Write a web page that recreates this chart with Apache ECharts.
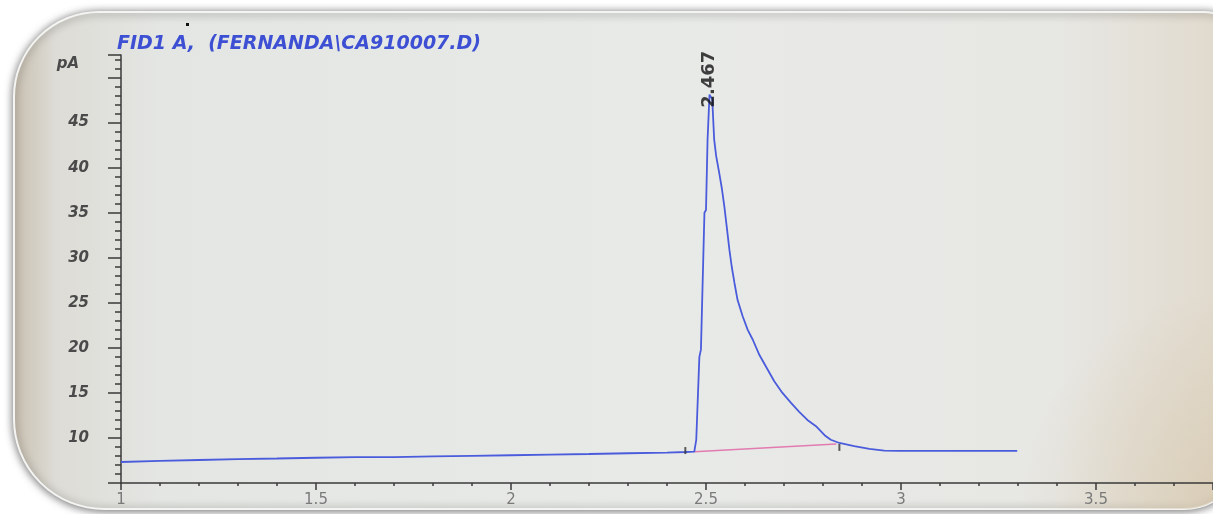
<!DOCTYPE html>
<html>
<head>
<meta charset="utf-8">
<script src="https://cdn.jsdelivr.net/npm/echarts@6/dist/echarts.min.js"></script>
<style>
html,body{margin:0;padding:0;background:#ffffff;}
#chart{width:1213px;height:514px;}
</style>
</head>
<body>
<div id="chart"></div>
<script>
// Retention time (min) and detector signal (pA)
const signalX = [1.00,1.10,1.20,1.30,1.40,1.50,1.60,1.70,1.80,1.90,2.00,2.10,2.20,2.30,2.40,2.447,2.470,
  2.475,2.483,2.487,2.496,2.500,2.504,2.509,2.516,2.521,2.526,2.534,2.541,2.547,2.553,2.560,2.566,2.573,2.581,
  2.594,2.607,2.620,2.637,2.654,2.675,2.696,2.718,2.739,2.760,2.782,2.804,2.820,2.842,
  2.880,2.919,2.957,2.995,3.10,3.20,3.298];
const signalY = [7.33,7.45,7.55,7.65,7.72,7.80,7.88,7.88,7.95,8.02,8.08,8.15,8.22,8.30,8.38,8.44,8.48,
  9.78,19.0,19.8,35.0,35.3,43.1,48.1,47.6,43.1,41.3,39.4,37.6,35.7,33.5,30.9,29.0,27.2,25.3,
  23.5,22.0,20.9,19.2,17.9,16.3,15.0,13.9,12.9,12.0,11.3,10.3,9.8,9.44,
  9.1,8.78,8.6,8.56,8.56,8.56,8.56];
// integration baseline
const baselineX = [2.470, 2.834];
const baselineY = [8.48, 9.33];
// integration event markers
const markerX = [2.447, 2.842];
const markerY = [8.6, 8.95];
// peak apex and its retention time label
const peakX = [2.509];
const peakY = [48.1];
const peakLabel = ['2.467'];
// axis tick labels
const xTickLabels = ['1','1.5','2','2.5','3','3.5'];
const yTickLabels = ['10','15','20','25','30','35','40','45'];
const titleText = 'FID1 A,  (FERNANDA\\CA910007.D)';
const yUnit = 'pA';

const zip = (a,b) => a.map((v,i)=>[v,b[i]]);

const chart = echarts.init(document.getElementById('chart'));
chart.setOption({
  backgroundColor: '#ffffff',
  animation: false,
  title: {
    text: titleText,
    left: 112, top: 30,
    textStyle: {color:'#3d50d4', fontStyle:'italic', fontWeight:'bold', fontSize:19, fontFamily:'DejaVu Sans'}
  },
  graphic: [
    {type:'rect', z:-10, shape:{x:14,y:12,width:1230,height:497,r:[85,40,60,90]},
     style:{fill:{type:'linear',x:0,y:0,x2:1,y2:0,colorStops:[
       {offset:0,color:'#c9c0b1'},{offset:0.035,color:'#dddcd6'},{offset:0.12,color:'#e4e6e3'},
       {offset:0.55,color:'#e8eae8'},{offset:0.85,color:'#e7e7e3'},{offset:1,color:'#e0d8ca'}]},
       stroke:'#f4f4f2', lineWidth:2, shadowBlur:8, shadowColor:'rgba(0,0,0,0.55)', shadowOffsetY:1}},
    {type:'rect', z:-9, shape:{x:14,y:12,width:1230,height:497,r:[85,40,60,90]},
     style:{fill:{type:'radial',x:1,y:1,r:0.45,colorStops:[
       {offset:0,color:'rgba(214,198,170,0.7)'},{offset:1,color:'rgba(214,198,170,0)'}]}}},
    {type:'rect', z:-8, shape:{x:186,y:23,width:3,height:3}, style:{fill:'#111'}}
  ],
  grid: {left:121, right:0, top:55, bottom:31},
  xAxis: {
    type:'value', min:1, max:3.8, interval:0.5,
    axisLine:{show:true, onZero:false, lineStyle:{color:'#3a3a3a', width:1.5}},
    axisTick:{show:true, inside:false, length:7, lineStyle:{color:'#3a3a3a', width:1.5}},
    minorTick:{show:true, splitNumber:5, length:3, lineStyle:{color:'#3a3a3a', width:1.5}},
    splitLine:{show:false},
    axisLabel:{show:true, margin:10, color:'#7a7a7a', fontSize:15, fontFamily:'DejaVu Sans', showMaxLabel:false,
      formatter: v => { const i = Math.round((v-1)/0.5); return (Math.abs(v-1-i*0.5)<1e-6 && xTickLabels[i]) ? xTickLabels[i] : ''; }}
  },
  yAxis: {
    type:'value', min:5, max:52.5, interval:5,
    name: yUnit, nameLocation:'end', nameGap:-9,
    nameTextStyle:{align:'right', verticalAlign:'middle', padding:[0,42,0,0], color:'#4a4a4a', fontStyle:'italic', fontWeight:'bold', fontSize:15, fontFamily:'DejaVu Sans'},
    axisLine:{show:true, onZero:false, lineStyle:{color:'#3a3a3a', width:1.5}},
    axisTick:{show:true, inside:false, length:13, lineStyle:{color:'#3a3a3a', width:1.5}},
    minorTick:{show:true, splitNumber:5, length:6, lineStyle:{color:'#3a3a3a', width:1.5}},
    splitLine:{show:false},
    axisLabel:{show:true, margin:32, color:'#4a4a4a', fontStyle:'italic', fontWeight:'bold', fontSize:15, fontFamily:'DejaVu Sans',
      showMinLabel:false, showMaxLabel:false,
      formatter: v => { const s = String(Math.round(v)); return yTickLabels.includes(s) ? s : ''; }}
  },
  series: [
    {type:'line', data: zip(baselineX, baselineY), symbol:'none', z:3,
     lineStyle:{color:'#e27bb0', width:1.5}},
    {type:'line', data: zip(signalX, signalY), symbol:'none', z:4,
     lineStyle:{color:'#4a5cdc', width:1.8}},
    {type:'scatter', data: zip(markerX, markerY), symbol:'rect', symbolSize:[2,7], z:5,
     itemStyle:{color:'#333'}},
    {type:'scatter', data: zip(peakX, peakY), symbolSize:1, z:6,
     itemStyle:{color:'rgba(0,0,0,0)'},
     label:{show:true, formatter: () => peakLabel[0], rotate:90, position:'inside', align:'left', verticalAlign:'middle',
       offset:[-13,0], color:'#111', fontWeight:'bold', fontSize:18, fontFamily:'DejaVu Sans'}}
  ]
});
</script>
</body>
</html>
